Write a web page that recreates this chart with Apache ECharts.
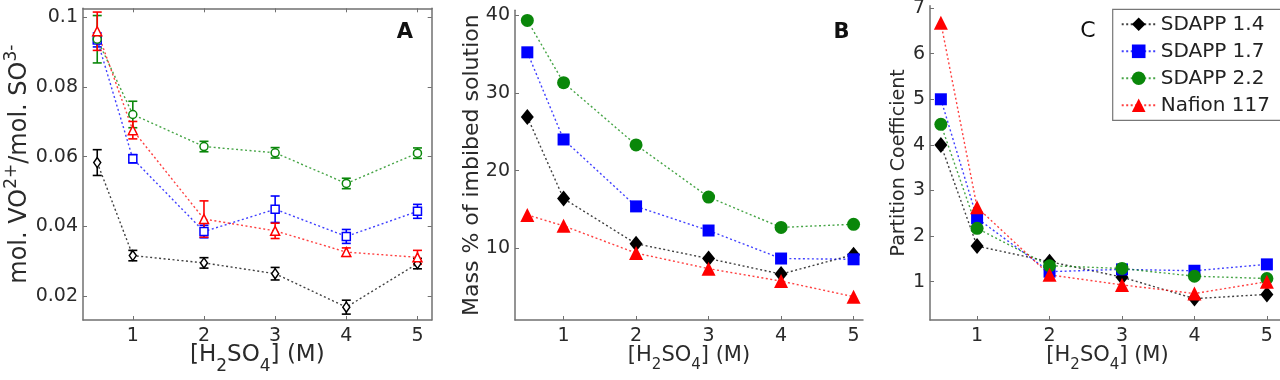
<!DOCTYPE html>
<html>
<head>
<meta charset="utf-8">
<script src="https://cdn.jsdelivr.net/npm/echarts@6/dist/echarts.min.js"></script>
<style>
html, body { margin: 0; padding: 0; background: #fff; }
#chart { width: 1280px; height: 380px; }
</style>
</head>
<body>
<div id="chart"></div>
<script>
// H2SO4 concentration (M)
const xConc = [0.5, 1, 2, 3, 4, 5];
const xTicks = [1, 2, 3, 4, 5];
const names = ['SDAPP 1.4', 'SDAPP 1.7', 'SDAPP 2.2', 'Nafion 117'];

// A: mol VO2+ / mol SO3-  (with error half-widths)
const ratio14 = [0.0583, 0.0316, 0.0295, 0.0264, 0.0168, 0.0293];
const ratio17 = [0.0935, 0.0594, 0.0385, 0.0449, 0.0371, 0.0443];
const ratio22 = [0.0937, 0.0721, 0.0629, 0.0611, 0.0523, 0.0610];
const ratioNaf = [0.0960, 0.0676, 0.0421, 0.0387, 0.0326, 0.0311];
const err14 = [0.0037, 0.0015, 0.0015, 0.0018, 0.0020, 0.0015];
const err17 = [0.0020, 0.0012, 0.0018, 0.0038, 0.0020, 0.0020];
const err22 = [0.0068, 0.0038, 0.0015, 0.0015, 0.0015, 0.0015];
const errNaf = [0.0055, 0.0025, 0.0052, 0.0022, 0.0012, 0.0020];

// B: mass % of imbibed solution
const mass14 = [26.9, 16.4, 10.6, 8.7, 6.7, 9.2];
const mass17 = [35.2, 24.0, 15.4, 12.3, 8.7, 8.6];
const mass22 = [39.3, 31.3, 23.3, 16.6, 12.7, 13.1];
const massNaf = [14.3, 12.9, 9.4, 7.4, 5.8, 3.8];

// C: partition coefficient
const part14 = [4.0, 1.78, 1.44, 1.1, 0.63, 0.72];
const part17 = [5.0, 2.39, 1.22, 1.27, 1.24, 1.38];
const part22 = [4.45, 2.17, 1.35, 1.29, 1.12, 1.07];
const partNaf = [6.68, 2.63, 1.15, 0.93, 0.74, 1.0];

const yTicksA = [0.02, 0.04, 0.06, 0.08, 0.1];
const yTicksB = [10, 20, 30, 40];
const yTicksC = [1, 2, 3, 4, 5, 6, 7];

const colors = ['#000000', '#0000ff', '#0a870a', '#ff0000'];
const symbols = ['diamond', 'rect', 'circle', 'triangle'];
const bigSizes = [[13, 16], 12, 13, 14];
const smallSizes = [[7, 10], 8, 8, 9];
const font = 'DejaVu Sans';
const axisColor = '#707070';
const textColor = '#2a2a2a';

const pairs = (ys) => xConc.map((x, i) => [x, ys[i]]);

const lineSeries = (idx, axis, ys, hollow) => ({
    name: names[idx],
    type: 'line',
    xAxisIndex: axis,
    yAxisIndex: axis,
    data: pairs(ys),
    symbol: symbols[idx],
    symbolSize: hollow ? smallSizes[idx] : bigSizes[idx],
    lineStyle: { color: colors[idx], width: 1.4, type: [2, 2.5], opacity: 0.75 },
    itemStyle: hollow
        ? { color: '#fff', borderColor: colors[idx], borderWidth: 1.5 }
        : { color: colors[idx] },
    emphasis: { disabled: true },
    silent: true,
    z: 3
});

// error bars drawn through the axis scales
const errSeries = (idx, ys, err) => ({
    type: 'custom',
    xAxisIndex: 0,
    yAxisIndex: 0,
    silent: true,
    z: 2,
    data: xConc.map((x, i) => [x, ys[i] - err[i], ys[i] + err[i]]),
    encode: { x: 0, y: [1, 2] },
    renderItem: (params, api) => {
        const lo = api.coord([api.value(0), api.value(1)]);
        const hi = api.coord([api.value(0), api.value(2)]);
        const w = 4.5;
        const st = { stroke: colors[idx], lineWidth: 1.6 };
        return {
            type: 'group',
            children: [
                { type: 'line', shape: { x1: lo[0], y1: lo[1], x2: hi[0], y2: hi[1] }, style: st },
                { type: 'line', shape: { x1: lo[0] - w, y1: lo[1], x2: lo[0] + w, y2: lo[1] }, style: st },
                { type: 'line', shape: { x1: hi[0] - w, y1: hi[1], x2: hi[0] + w, y2: hi[1] }, style: st }
            ]
        };
    }
});

// rich styles for axis titles: main text, superscript, subscript
const richOf = (big, small, shift) => ({
    n: { fontFamily: font, fontSize: big, color: textColor },
    sup: { fontFamily: font, fontSize: small, color: textColor, padding: [0, 0, shift, 0] },
    sub: { fontFamily: font, fontSize: small, color: textColor, padding: [shift, 0, 0, 0] }
});
const xName = '{n|[H}{sub|2}{n|SO}{sub|4}{n|] (M)}';

const fmt = (v) => String(+(+v).toFixed(3));

const xAxisOf = (grid, min, max, rich, gap) => ({
    type: 'value',
    gridIndex: grid,
    min: min,
    max: max,
    name: xName,
    nameLocation: 'middle',
    nameGap: gap,
    nameMoveOverlap: false,
    nameTextStyle: { rich: rich },
    axisLine: { onZero: false, lineStyle: { color: axisColor, width: 1.5 } },
    axisTick: { inside: true, length: 4, customValues: xTicks, lineStyle: { color: axisColor } },
    axisLabel: { customValues: xTicks, margin: 7, fontFamily: font, fontSize: 19, color: textColor, formatter: fmt },
    splitLine: { show: false }
});

const yAxisOf = (grid, min, max, ticks, name, rich, gap) => ({
    type: 'value',
    gridIndex: grid,
    min: min,
    max: max,
    name: name,
    nameLocation: 'middle',
    nameGap: gap,
    nameMoveOverlap: false,
    nameTextStyle: { rich: rich },
    axisLine: { onZero: false, lineStyle: { color: axisColor, width: 1.5 } },
    axisTick: { inside: true, length: 4, customValues: ticks, lineStyle: { color: axisColor } },
    axisLabel: { customValues: ticks, margin: 5, fontFamily: font, fontSize: 19, color: textColor, formatter: fmt },
    splitLine: { show: false }
});

const chart = echarts.init(document.getElementById('chart'), null, { renderer: 'canvas' });

const option = {
    animation: false,
    backgroundColor: '#fff',
    grid: [
        { left: 83, top: 8.3, width: 348.7, height: 311.7, outerBoundsMode: 'none' },
        { left: 515, top: 10.3, width: 348, height: 309.7, outerBoundsMode: 'none' },
        { left: 930, top: 5.8, width: 355, height: 314.2, outerBoundsMode: 'none' }
    ],
    xAxis: [
        xAxisOf(0, 0.3, 5.2, richOf(23, 17, 22), 16),
        xAxisOf(1, 0.33, 5.13, richOf(21, 15, 20), 18),
        xAxisOf(2, 0.35, 5.25, richOf(21, 15, 20), 18),
        // top frame of panel A
        {
            type: 'value', gridIndex: 0, position: 'top', min: 0.3, max: 5.2,
            axisLine: { onZero: false, lineStyle: { color: axisColor, width: 1.5 } },
            axisTick: { inside: true, length: 4, customValues: xTicks, lineStyle: { color: axisColor } },
            axisLabel: { show: false }, splitLine: { show: false }
        }
    ],
    yAxis: [
        yAxisOf(0, 0.01311, 0.10258, yTicksA, '{n|mol. VO}{sup|2+}{n|/mol. SO}{sup|3-}', richOf(24, 17, 16), 47),
        yAxisOf(1, 0.8, 40.6, yTicksB, '{n|Mass % of imbibed solution}', richOf(22, 15, 0), 32),
        yAxisOf(2, 0.16, 7.05, yTicksC, '{n|Partition Coefficient}', richOf(19, 13, 0), 21),
        // right frame of panel A
        {
            type: 'value', gridIndex: 0, position: 'right', min: 0.01311, max: 0.10258,
            axisLine: { onZero: false, lineStyle: { color: axisColor, width: 1.5 } },
            axisTick: { inside: true, length: 4, customValues: yTicksA, lineStyle: { color: axisColor } },
            axisLabel: { show: false }, splitLine: { show: false }
        }
    ],
    legend: {
        data: names,
        orient: 'vertical',
        left: 1112.7,
        top: 9.3,
        padding: [5, 14, 5, 8],
        itemGap: 7,
        itemWidth: 34,
        itemHeight: 17,
        selectedMode: false,
        borderColor: '#777',
        borderWidth: 1.2,
        borderRadius: 0,
        backgroundColor: '#fff',
        textStyle: { fontFamily: font, fontSize: 20, color: '#222' },
        z: 10
    },
    graphic: [
        { type: 'text', x: 405, y: 32.5, z: 20, style: { text: 'A', font: 'bold 21px "DejaVu Sans"', fill: '#111', textAlign: 'center', textVerticalAlign: 'middle' } },
        { type: 'text', x: 841.5, y: 32.5, z: 20, style: { text: 'B', font: 'bold 21px "DejaVu Sans"', fill: '#111', textAlign: 'center', textVerticalAlign: 'middle' } },
        { type: 'text', x: 1088, y: 31, z: 20, style: { text: 'C', font: '22px "DejaVu Sans"', fill: '#111', textAlign: 'center', textVerticalAlign: 'middle' } }
    ],
    series: [
        // panel C first so the legend takes its filled markers
        lineSeries(0, 2, part14, false),
        lineSeries(1, 2, part17, false),
        lineSeries(2, 2, part22, false),
        lineSeries(3, 2, partNaf, false),
        lineSeries(0, 1, mass14, false),
        lineSeries(1, 1, mass17, false),
        lineSeries(2, 1, mass22, false),
        lineSeries(3, 1, massNaf, false),
        errSeries(0, ratio14, err14),
        errSeries(1, ratio17, err17),
        errSeries(2, ratio22, err22),
        errSeries(3, ratioNaf, errNaf),
        lineSeries(0, 0, ratio14, true),
        lineSeries(1, 0, ratio17, true),
        lineSeries(2, 0, ratio22, true),
        lineSeries(3, 0, ratioNaf, true)
    ]
};

chart.setOption(option, true);
window.onresize = chart.resize;
</script>
</body>
</html>
